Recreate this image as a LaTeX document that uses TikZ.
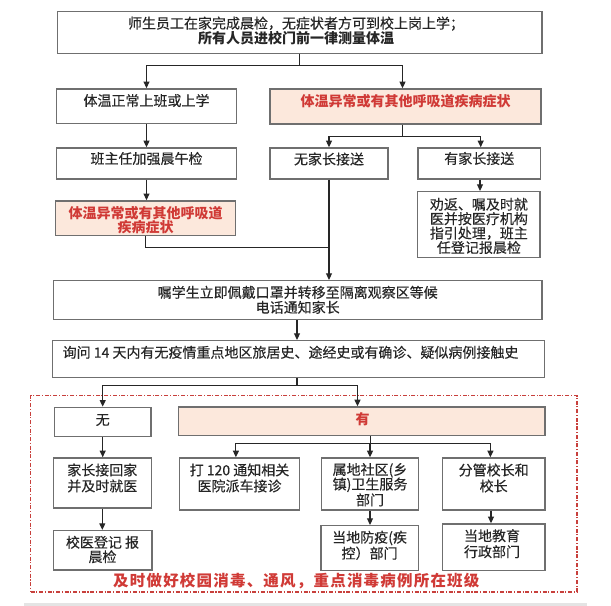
\documentclass[tikz,border=0pt]{standalone}
\usepackage{fontspec}
\setmainfont{Noto Sans CJK SC}[UprightFeatures={FakeBold=0.25}]
\newfontfamily\notefont{Noto Sans CJK SC}[LetterSpace=8.0]
\usetikzlibrary{arrows.meta,calc}
\definecolor{boxline}{HTML}{6F6F6F}
\definecolor{pinkfill}{HTML}{FCE8DC}
\definecolor{redtxt}{HTML}{D03A36}
\definecolor{dashred}{HTML}{C8403C}
\definecolor{bandgray}{HTML}{E4E4E4}
\begin{document}
\begin{tikzpicture}[x=0.75pt,y=-0.75pt,
  sz/.style 2 args={minimum width=#1*0.75pt, minimum height=#2*0.75pt},
  box/.style={draw=boxline, line width=1.1pt, fill=white, inner sep=0pt},
  pinkbox/.style={box, fill=pinkfill},
  txt/.style={inner sep=0pt, align=center, text=black!85, font=\fontsize{10.5pt}{11.25pt}\selectfont},
  rtxt/.style={txt, text=redtxt, font=\fontsize{10.5pt}{10.5pt}\selectfont\bfseries},
  conn/.style={draw=black!85, line width=0.85pt},
  arr/.style={conn, -{Triangle[length=5pt,width=4.5pt]}},
  zone/.style={draw=dashred, line width=0.9pt, dash pattern=on 3pt off 1.3pt on 0.8pt off 1.3pt, inner sep=0pt}
]
\useasboundingbox (0,0) rectangle (611,606);
\fill[white] (0,0) rectangle (611,606);
\fill[bandgray] (24,603) rectangle (587,606);

% outer dashed zone
\node[zone, sz={546.5}{196.5}] (zonebox) at (303.75,493.75) {};

% boxes
\node[box, sz={484.7}{41.6}] (top) at (299.6,32.5) {};
\node[txt] (top-t) at (296,30.8) {师生员工在家完成晨检，无症状者方可到校上岗上学；\\\textbf{所有人员进校门前一律测量体温}};

\node[box, sz={180}{34.5}] (normal) at (146.5,106.2) {};
\node[txt] (normal-t) at (146.5,100.5) {体温正常上班或上学};

\node[pinkbox, sz={271}{35}] (abn1) at (405.5,106.5) {};
\node[rtxt] (abn1-t) at (405.5,101) {体温异常或有其他呼吸道疾病症状};

\node[box, sz={180}{31}] (cls) at (146.5,163.5) {};
\node[txt] (cls-t) at (146.5,158.5) {班主任加强晨午检};

\node[box, sz={118}{31}] (nop) at (329,163.5) {};
\node[txt] (nop-t) at (329,159) {无家长接送};

\node[box, sz={122.7}{31}] (yesp) at (479.3,163.5) {};
\node[txt] (yesp-t) at (479.3,158.5) {有家长接送};

\node[pinkbox, sz={180}{34.7}] (abn2) at (145.7,218.3) {};
\node[rtxt] (abn2-t) at (145.7,219.7) {体温异常或有其他呼吸道\\疾病症状};

\node[box, sz={122.3}{65.6}] (quan) at (478.9,224.5) {};
\node[txt, font=\fontsize{10.5pt}{10.8pt}\selectfont] (quan-t) at (478.9,225.9) {劝返、嘱及时就\\医并按医疗机构\\指引处理，班主\\任登记报晨检};

\node[box, sz={488.6}{38.6}] (zhu) at (297.7,300) {};
\node[txt] (zhu-t) at (297.7,299.8) {嘱学生立即佩戴口罩并转移至隔离观察区等候\\电话通知家长};

\node[box, sz={492}{36.6}] (ask) at (298.6,359) {};
\node[txt, anchor=west] (ask-t) at (62.4,352.3) {询问 14 天内有无疫情重点地区旅居史、途经史或有确诊、疑似病例接触史};

\node[box, sz={96.5}{29.2}] (no) at (102.7,422) {};
\node[txt] (no-t) at (102.7,420) {无};

\node[pinkbox, sz={366.4}{28.5}] (yes) at (361.8,421.3) {};
\node[rtxt] (yes-t) at (362.6,419.3) {有};

\node[box, sz={98}{50}] (home) at (102.3,483) {};
\node[txt, font=\fontsize{10.5pt}{12pt}\selectfont] (home-t) at (102.3,478) {家长接回家\\并及时就医};

\node[box, sz={120}{52}] (call) at (239.3,484) {};
\node[txt, font=\fontsize{10.5pt}{12pt}\selectfont] (call-t) at (239.5,478) {打 120 通知相关\\医院派车接诊};

\node[box, sz={96.7}{52}] (comm) at (370,484) {};
\node[txt, font=\fontsize{10.5pt}{10.9pt}\selectfont] (comm-t) at (370,484.7) {属地社区(乡\\镇)卫生服务\\部门};

\node[box, sz={102.5}{52}] (head) at (493.7,484) {};
\node[txt, font=\fontsize{10.5pt}{12pt}\selectfont] (head-t) at (493.7,478) {分管校长和\\校长};

\node[box, sz={98.6}{39.3}] (doc) at (102.7,550.3) {};
\node[txt, font=\fontsize{10.5pt}{10.8pt}\selectfont] (doc-t) at (102.5,549.5) {校医登记 报\\晨检};

\node[box, sz={97.4}{45}] (cdc) at (369.6,548.2) {};
\node[txt, font=\fontsize{10.5pt}{12pt}\selectfont] (cdc-t) at (369.6,545.3) {当地防疫(疾\\控）部门};

\node[box, sz={102.5}{46.7}] (edu) at (493.7,547.3) {};
\node[txt, font=\fontsize{10.5pt}{12pt}\selectfont] (edu-t) at (492,543.7) {当地教育\\行政部门};

\node[inner sep=0pt, text=redtxt, font=\fontsize{11.6pt}{14pt}\notefont\bfseries] (note) at (296.3,580.7) {及时做好校园消毒、通风，重点消毒病例所在班级};

% connectors
\coordinate (j1) at ($(top.south)+(0,11.7)$);
\draw[conn] (top.south) -- (j1);
\draw[arr] (j1) -| (normal.north);
\draw[arr] (j1) -| ($(abn1.north)+(-3,0)$);

\coordinate (a1) at ($(abn1.south)+(-3,0)$);
\coordinate (j2) at ($(a1)+(0,12)$);
\draw[conn] (a1) -- (j2);
\draw[arr] (j2) -| (nop.north);
\draw[arr] (j2) -| ($(yesp.north)+(1.4,0)$);

\draw[arr] (normal.south) -- (cls.north);
\draw[arr] (cls.south) -- (cls.south |- abn2.north);
\coordinate (ys) at ($(yesp.south)+(0.7,0)$);
\draw[arr] (ys) -- (ys |- quan.north);

\coordinate (y3) at (0,247.7);
\draw[conn] (abn2.south) |- (nop.south |- y3);
\draw[arr] (nop.south) -- (nop.south |- zhu.north);

\coordinate (zs) at ($(zhu.south)+(-0.7,0)$);
\draw[arr] (zs) -- (zs |- ask.north);

\coordinate (as) at ($(ask.south)+(-1.6,0)$);
\coordinate (j4) at ($(as)+(0,7.4)$);
\draw[conn] (as) -- (j4);
\draw[arr] (j4) -| (no.north);
\draw[arr] (j4) -| ($(yes.north)+(-4.3,0)$);

\coordinate (ysb) at ($(yes.south)+(8.6,0)$);
\coordinate (j5) at ($(ysb)+(0,7.5)$);
\draw[conn] (ysb) -- (j5);
\draw[arr] (j5) -| ($(call.north)+(-3.4,0)$);
\draw[arr] (j5) -| (comm.north);
\draw[arr] (j5) -| ($(head.north)+(-3.3,0)$);

\draw[arr] (no.south) -- (no.south |- home.north);
\draw[arr] (home.south) -- (home.south |- doc.north);
\draw[arr] (comm.south) -- (comm.south |- cdc.north);
\coordinate (hs) at ($(head.south)+(-2.7,0)$);
\draw[arr] (hs) -- (hs |- edu.north);
\end{tikzpicture}
\end{document}
